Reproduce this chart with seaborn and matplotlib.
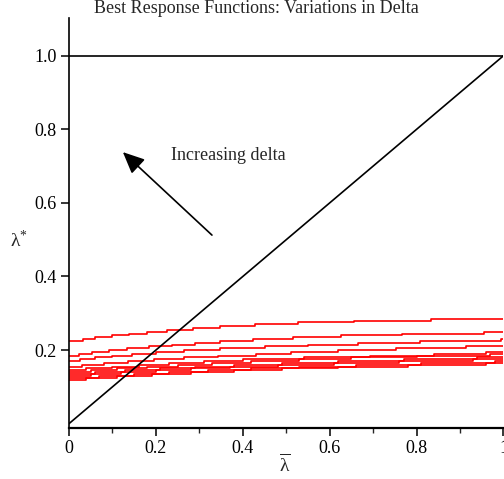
import matplotlib
matplotlib.use("Agg")
import matplotlib.pyplot as plt
import numpy as np
import pandas as pd
import seaborn as sns

# ---- data ----
# each curve: x positions where the best response steps up, and its successive levels
a_steps = [0.033, 0.060, 0.098, 0.137, 0.179, 0.225, 0.286, 0.347, 0.428, 0.527, 0.657, 0.834]
a_vals = [0.225, 0.230, 0.235, 0.240, 0.245, 0.250, 0.255, 0.260, 0.265, 0.270, 0.275, 0.280, 0.285]
b_steps = [0.022, 0.053, 0.091, 0.133, 0.183, 0.237, 0.290, 0.347, 0.424, 0.516, 0.627, 0.767, 0.956]
b_vals = [0.185, 0.190, 0.195, 0.200, 0.205, 0.210, 0.215, 0.220, 0.225, 0.230, 0.235, 0.240, 0.245, 0.250]
c_steps = [0.025, 0.060, 0.100, 0.145, 0.200, 0.265, 0.347, 0.451, 0.550, 0.665, 0.807, 0.995]
c_vals = [0.170, 0.175, 0.180, 0.185, 0.190, 0.195, 0.200, 0.205, 0.210, 0.215, 0.220, 0.225, 0.230]
d_steps = [0.030, 0.080, 0.135, 0.195, 0.265, 0.343, 0.431, 0.512, 0.619, 0.753, 0.914]
d_vals = [0.155, 0.160, 0.165, 0.170, 0.175, 0.180, 0.185, 0.190, 0.195, 0.200, 0.205, 0.210]
e_steps = [0.040, 0.100, 0.160, 0.230, 0.310, 0.400, 0.540, 0.692, 0.841, 0.960]
e_vals = [0.145, 0.150, 0.155, 0.160, 0.165, 0.170, 0.175, 0.180, 0.185, 0.190, 0.195]
f_steps = [0.050, 0.110, 0.180, 0.250, 0.330, 0.420, 0.530, 0.650, 0.800, 0.970]
f_vals = [0.140, 0.145, 0.150, 0.155, 0.160, 0.165, 0.170, 0.175, 0.180, 0.185, 0.190]
g_steps = [0.060, 0.130, 0.210, 0.290, 0.380, 0.490, 0.620, 0.770, 0.940]
g_vals = [0.135, 0.140, 0.145, 0.150, 0.155, 0.160, 0.165, 0.170, 0.175, 0.180]
h_steps = [0.050, 0.120, 0.200, 0.280, 0.370, 0.480, 0.610, 0.760, 0.930]
h_vals = [0.130, 0.135, 0.140, 0.145, 0.150, 0.155, 0.160, 0.165, 0.170, 0.175]
i_steps = [0.070, 0.150, 0.230, 0.320, 0.420, 0.530, 0.660, 0.810, 0.980]
i_vals = [0.125, 0.130, 0.135, 0.140, 0.145, 0.150, 0.155, 0.160, 0.165, 0.170]
j_steps = [0.040, 0.110, 0.190, 0.280, 0.380, 0.490, 0.620, 0.780, 0.960]
j_vals = [0.120, 0.125, 0.130, 0.135, 0.140, 0.145, 0.150, 0.155, 0.160, 0.165]

diag_x = [0.0, 1.0]
diag_y = [0.0, 1.0]
top_x = [0.0, 1.0]
top_y = [1.0, 1.0]

x_ticks = [0, 0.2, 0.4, 0.6, 0.8, 1]
x_ticklabels = ["0", "0.2", "0.4", "0.6", "0.8", "1"]
y_ticks = [0.2, 0.4, 0.6, 0.8, 1.0]
y_ticklabels = ["0.2", "0.4", "0.6", "0.8", "1.0"]

title = "Best Response Functions: Variations in Delta"
annot_text = "Increasing delta"

# ---- build long table ----
curves = {
    "a": (a_steps, a_vals), "b": (b_steps, b_vals), "c": (c_steps, c_vals),
    "d": (d_steps, d_vals), "e": (e_steps, e_vals), "f": (f_steps, f_vals),
    "g": (g_steps, g_vals), "h": (h_steps, h_vals), "i": (i_steps, i_vals),
    "j": (j_steps, j_vals),
}
rows = []
for name, (steps, vals) in curves.items():
    xs = [0.0] + list(steps) + [1.0]
    ys = list(vals) + [vals[-1]]
    for xv, yv in zip(xs, ys):
        rows.append({"curve": name, "x": xv, "y": yv})
df = pd.DataFrame(rows)

sns.set_theme(style="ticks")
plt.rcParams["font.family"] = ["Liberation Serif", "DejaVu Serif"]
plt.rcParams["mathtext.fontset"] = "custom"
plt.rcParams["mathtext.rm"] = "Liberation Serif"
plt.rcParams["mathtext.it"] = "Liberation Serif:italic"

fig = plt.figure(figsize=(5.04, 4.79), dpi=100)
ax = fig.add_axes([0.1369, 0.1071, 0.8621, 0.8553])

sns.lineplot(data=df, x="x", y="y", units="curve", estimator=None, color="#ff0000",
             linewidth=1.2, drawstyle="steps-post", sort=False, ax=ax, legend=False)
sns.lineplot(x=diag_x, y=diag_y, color="black", linewidth=1.2, ax=ax)
sns.lineplot(x=top_x, y=top_y, color="black", linewidth=1.2, ax=ax)

ax.annotate("", xy=(0.124, 0.738), xytext=(0.329, 0.5125),
            arrowprops=dict(arrowstyle="-|>,head_length=1.1,head_width=0.5",
                            color="black", lw=1.2, shrinkA=0, shrinkB=0))
ax.text(0.234, 0.728, annot_text, fontsize=13, ha="left", va="center")

ax.set_xlim(0, 1)
ax.set_ylim(-0.011, 1.1025)
ax.set_xticks(x_ticks)
ax.set_xticklabels(x_ticklabels)
ax.set_xticks([0.1, 0.3, 0.5, 0.7, 0.9], minor=True)
ax.set_yticks(y_ticks)
ax.set_yticklabels(y_ticklabels)
ax.tick_params(axis="both", which="major", direction="out", length=6, width=1.1,
               labelsize=13, colors="black", pad=3)
ax.tick_params(axis="x", which="minor", direction="out", length=3.5, width=1.0)
sns.despine(ax=ax)
ax.spines["left"].set_linewidth(1.2)
ax.spines["bottom"].set_linewidth(1.6)
ax.spines["left"].set_color("black")
ax.spines["bottom"].set_color("black")

ax.set_xlabel(r"$\mathregular{\overline{λ}}$", fontsize=14, labelpad=0)
ax.xaxis.set_label_coords(0.497, -0.062)
ax.set_ylabel(r"$\mathregular{λ^{*}}$", fontsize=14, rotation=0, va="center")
ax.yaxis.set_label_coords(-0.115, 0.458)
fig.suptitle(title, x=0.508, y=0.999, va="top", fontsize=13)

fig.savefig("out.png", dpi=100, facecolor="white")
